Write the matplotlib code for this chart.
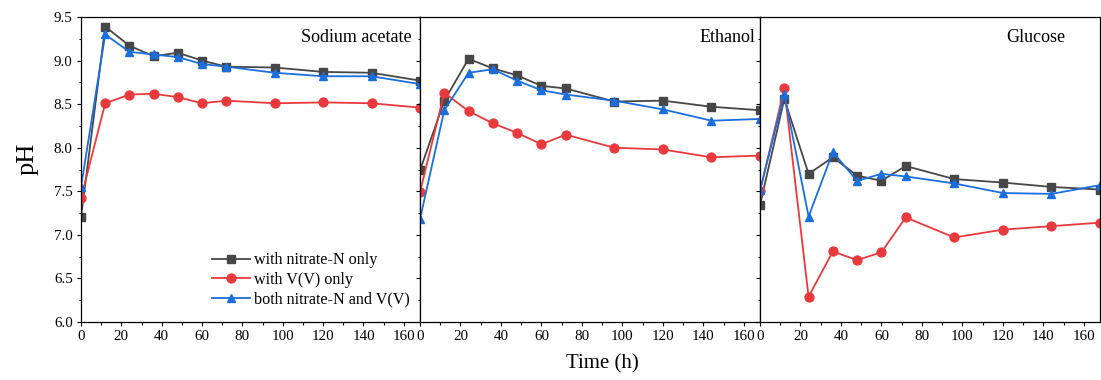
import matplotlib
matplotlib.use("Agg")
import matplotlib.pyplot as plt
from matplotlib.ticker import MultipleLocator

plt.rcParams['font.family'] = ['Liberation Serif', 'DejaVu Serif']

# time points (h)
time = [0, 12, 24, 36, 48, 60, 72, 96, 120, 144, 168]

panels = ['Sodium acetate', 'Ethanol', 'Glucose']
labels = ['with nitrate-N only', 'with V(V) only', 'both nitrate-N and V(V)']

# pH values per carbon source
acetate_nitrate = [7.20, 9.39, 9.17, 9.05, 9.09, 9.00, 8.93, 8.92, 8.87, 8.86, 8.77]
acetate_vv = [7.42, 8.51, 8.61, 8.62, 8.58, 8.51, 8.54, 8.51, 8.52, 8.51, 8.46]
acetate_both = [7.55, 9.30, 9.10, 9.07, 9.04, 8.96, 8.93, 8.86, 8.82, 8.82, 8.73]

ethanol_nitrate = [7.74, 8.54, 9.02, 8.91, 8.83, 8.71, 8.68, 8.53, 8.54, 8.47, 8.43]
ethanol_vv = [7.49, 8.63, 8.42, 8.28, 8.17, 8.04, 8.15, 8.00, 7.98, 7.89, 7.91]
ethanol_both = [7.18, 8.43, 8.86, 8.90, 8.77, 8.66, 8.61, 8.54, 8.44, 8.31, 8.33]

glucose_nitrate = [7.34, 8.56, 7.70, 7.89, 7.68, 7.62, 7.79, 7.64, 7.60, 7.55, 7.52]
glucose_vv = [7.50, 8.68, 6.29, 6.81, 6.71, 6.80, 7.20, 6.97, 7.06, 7.10, 7.14]
glucose_both = [7.51, 8.62, 7.21, 7.95, 7.62, 7.70, 7.67, 7.59, 7.48, 7.47, 7.57]

data = [
    [acetate_nitrate, acetate_vv, acetate_both],
    [ethanol_nitrate, ethanol_vv, ethanol_both],
    [glucose_nitrate, glucose_vv, glucose_both],
]

colors = ['#474747', '#e83a3d', '#1a6fdc']
markers = ['s', 'o', '^']

W, H = 1101, 380
fig = plt.figure(figsize=(W / 100, H / 100), dpi=100)

edges = [81, 420, 760, 1100]
top, bottom = 17, 322
text_pos = [(412, 'right'), (755, 'right'), (1036, 'center')]

axes = []
for i in range(3):
    ax = fig.add_axes([edges[i] / W, 1 - bottom / H,
                       (edges[i + 1] - edges[i]) / W, (bottom - top) / H])
    for j in range(3):
        ax.plot(time, data[i][j], color=colors[j], marker=markers[j],
                markersize=6.4, linewidth=1.3, label=labels[j])
    ax.set_xlim(0, 168)
    ax.set_ylim(6.0, 9.5)
    ax.xaxis.set_major_locator(MultipleLocator(20))
    ax.xaxis.set_minor_locator(MultipleLocator(10))
    ax.yaxis.set_major_locator(MultipleLocator(0.5))
    ax.yaxis.set_minor_locator(MultipleLocator(0.25))
    ax.tick_params(which='major', direction='out', length=3, width=0.8,
                   labelsize=10.8, pad=3)
    ax.tick_params(which='minor', direction='out', length=1.8, width=0.8)
    for s in ax.spines.values():
        s.set_linewidth(0.9)
    if i == 0:
        ax.yaxis.set_major_formatter(matplotlib.ticker.FormatStrFormatter('%.1f'))
    else:
        ax.tick_params(axis='y', labelleft=False)
    xt, ha = text_pos[i]
    fig.text(xt / W, 1 - 37 / H, panels[i], ha=ha, va='center', fontsize=13)
    axes.append(ax)

axes[0].legend(loc='center left', bbox_to_anchor=(212 / W, 1 - 280 / H),
               bbox_transform=fig.transFigure, frameon=False, fontsize=11.6,
               handlelength=2.35, handletextpad=0.25, labelspacing=0.22,
               borderpad=0, borderaxespad=0)

fig.text(602 / W, 1 - 364 / H, 'Time (h)', ha='center', va='center', fontsize=15)
fig.text(28 / W, 1 - 159 / H, 'pH', ha='center', va='center', rotation=90,
         fontsize=19)

fig.savefig('out.png', dpi=100)
